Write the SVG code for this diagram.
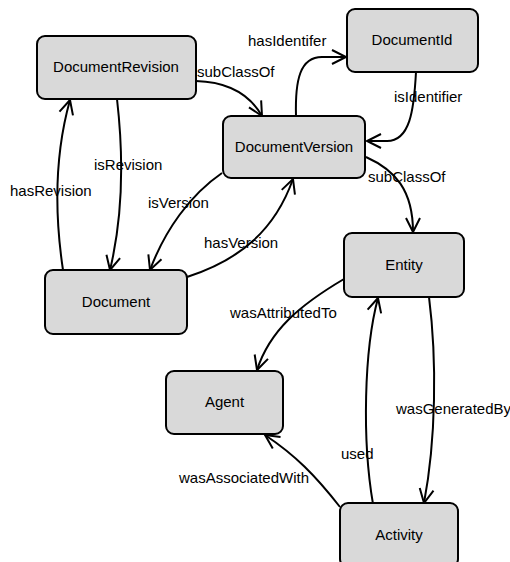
<svg xmlns="http://www.w3.org/2000/svg" width="510" height="562" viewBox="0 0 510 562">
<defs>
<marker id="arr" markerUnits="userSpaceOnUse" viewBox="-16 -9 18 18" markerWidth="18" markerHeight="18" refX="0" refY="0" orient="auto" overflow="visible">
<path d="M-14,-7 L0,0 L-14,7" fill="none" stroke="#000" stroke-width="2"/>
</marker>
</defs>
<style>
.node rect{fill:#d9d9d9;stroke:#000;stroke-width:2}
.node text{font-family:"Liberation Sans",Arial,sans-serif;font-size:15px;text-anchor:middle;fill:#000}
.edge{fill:none;stroke:#000;stroke-width:2;marker-end:url(#arr)}
.lbl{font-family:"Liberation Sans",Arial,sans-serif;font-size:15px;fill:#000}
</style>
<rect width="510" height="562" fill="#fff"/>
<g id="connectors">
<path class="edge" d="M196,81 C230,82 250,95 262,116"/>
<path class="edge" d="M296,116 C295,80 300,57 322,57 L346,57"/>
<path class="edge" d="M416,72 C414,110 410,142 386,141 L367,141"/>
<path class="edge" d="M366,157 C395,170 413,190 413,232"/>
<path class="edge" d="M117,99 C124,160 122,220 110,270"/>
<path class="edge" d="M63,270 C54,210 56,150 70,100"/>
<path class="edge" d="M222,173 C190,195 165,230 150,270"/>
<path class="edge" d="M187,277 C240,260 275,230 293,179"/>
<path class="edge" d="M344,279 C300,305 270,330 257,370"/>
<path class="edge" d="M373,504 C362,440 364,350 378,298"/>
<path class="edge" d="M429,297 C437,360 436,440 424,503"/>
<path class="edge" d="M340,507 C315,475 295,455 265,435"/>
<text class="lbl" x="197" y="77">subClassOf</text>
<text class="lbl" x="248" y="46">hasIdentifer</text>
<text class="lbl" x="394" y="102">isIdentifier</text>
<text class="lbl" x="368" y="182">subClassOf</text>
<text class="lbl" x="94" y="170">isRevision</text>
<text class="lbl" x="10" y="196">hasRevision</text>
<text class="lbl" x="148" y="208">isVersion</text>
<text class="lbl" x="204" y="248">hasVersion</text>
<text class="lbl" x="230" y="318">wasAttributedTo</text>
<text class="lbl" x="341" y="459">used</text>
<text class="lbl" x="396" y="414">wasGeneratedBy</text>
<text class="lbl" x="179" y="483">wasAssociatedWith</text>
</g>
<g id="DocumentRevision" class="node"><rect x="37" y="36" width="159" height="63" rx="8"/><text x="116" y="72">DocumentRevision</text></g>
<g id="DocumentId" class="node"><rect x="347" y="9" width="131" height="63" rx="8"/><text x="412" y="45">DocumentId</text></g>
<g id="DocumentVersion" class="node"><rect x="223" y="116" width="142" height="62" rx="8"/><text x="294" y="152">DocumentVersion</text></g>
<g id="Document" class="node"><rect x="45" y="270" width="142" height="64" rx="8"/><text x="116" y="307">Document</text></g>
<g id="Entity" class="node"><rect x="344" y="233" width="120" height="64" rx="8"/><text x="404" y="270">Entity</text></g>
<g id="Agent" class="node"><rect x="166" y="371" width="117" height="63" rx="8"/><text x="224.5" y="407">Agent</text></g>
<g id="Activity" class="node"><rect x="340" y="503" width="118" height="64" rx="8"/><text x="399" y="540">Activity</text></g>
</svg>
